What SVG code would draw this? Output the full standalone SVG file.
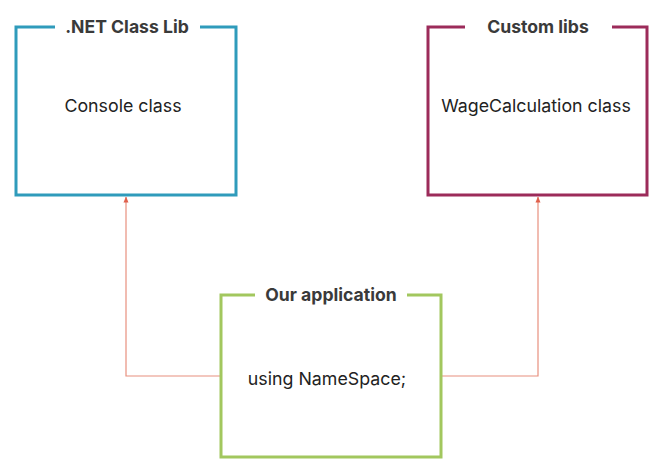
<svg xmlns="http://www.w3.org/2000/svg" width="666" height="473" viewBox="0 0 666 473">
<style>
.frame{fill:none;stroke-width:3}
.title{font-family:"Inter","Liberation Sans",sans-serif;font-weight:bold;font-size:17.6px;fill:#3a3a3a;text-anchor:middle}
.body{font-family:"Inter","Liberation Sans",sans-serif;font-size:17.8px;fill:#222;text-anchor:middle}
.conn{fill:none;stroke:#e8907e;stroke-width:1.2}
</style>
<defs>
<marker id="arr" viewBox="0 0 6 6" refX="5.5" refY="3" markerWidth="6" markerHeight="6" orient="auto" markerUnits="userSpaceOnUse">
<path d="M0,0.5 L6,3 L0,5.5 z" fill="#e0604c"/>
</marker>
</defs>
<g id="connectors">
<path class="conn" d="M221,376 H126 V197" marker-end="url(#arr)"/>
<path class="conn" d="M441,376 H538 V197" marker-end="url(#arr)"/>
</g>
<g id="netlib">
<path class="frame" stroke="#2f9bbb" d="M55,27 H16 V195 H236 V27 H200"/>
<text class="title" x="127" y="33">.NET Class Lib</text>
<text class="body" x="123" y="112">Console class</text>
</g>
<g id="customlibs">
<path class="frame" stroke="#9c2b5a" d="M465,27 H428 V195 H647 V27 H612"/>
<text class="title" x="538" y="33">Custom libs</text>
<text class="body" x="536" y="112">WageCalculation class</text>
</g>
<g id="app">
<path class="frame" stroke="#a2c75e" d="M255,295 H221 V457 H441 V295 H407"/>
<text class="title" x="331" y="301">Our application</text>
<text class="body" x="327" y="385">using NameSpace;</text>
</g>
</svg>
